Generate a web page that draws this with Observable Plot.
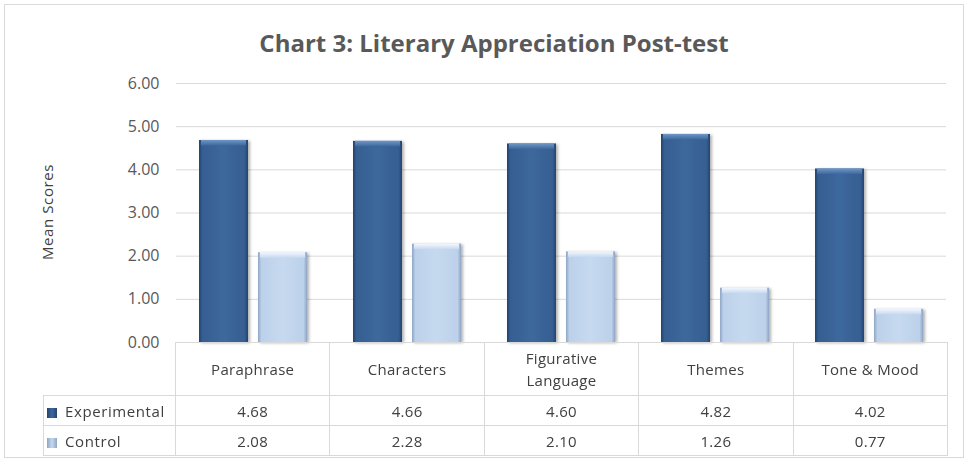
<!DOCTYPE html>
<html>
<head>
<meta charset="utf-8">
<script src="https://cdn.jsdelivr.net/npm/d3@7"></script>
<script src="https://cdn.jsdelivr.net/npm/@observablehq/plot@0.6"></script>
<style>
  html, body { margin: 0; padding: 0; background: #fff; }
  #wrap { position: relative; width: 970px; height: 464px; overflow: hidden; font-family: "Open Sans", sans-serif; }
  #frame { position: absolute; left: 4px; top: 4px; width: 958px; height: 452px; border: 1px solid #d9d9d9; }
  #title { position: absolute; left: 0; width: 988px; top: 26px; text-align: center; font-size: 24px; font-weight: 700; color: #595959; }
  #ylab { position: absolute; left: 47px; top: 212px; transform: translate(-50%, -50%) rotate(-90deg); font-size: 15px; letter-spacing: 0.6px; color: #404040; white-space: nowrap; }
  #plot { position: absolute; left: 0; top: 0; }
  #tbl { position: absolute; left: 43px; top: 342px; border-collapse: collapse; table-layout: fixed; font-size: 15px; color: #404040; }
  #tbl td, #tbl th { border: 1px solid #d9d9d9; text-align: center; font-weight: normal; padding: 0; letter-spacing: 0.3px; }
  #tbl th { height: 52px; }
  #tbl th span { display: inline-block; max-width: 110px; line-height: 22px; }
  #tbl td { height: 29px; }
  #tbl td.blank { border: none; border-right: 1px solid #d9d9d9; border-bottom: 1px solid #d9d9d9; }
  #tbl td.lg { text-align: left; padding-left: 3px; letter-spacing: 0.6px; }
  .key { display: inline-block; width: 10px; height: 10px; margin-right: 8px; vertical-align: -1px; }
</style>
</head>
<body>
<div id="wrap">
  <div id="frame"></div>
  <div id="plot"></div>
  <div id="title">Chart 3: Literary Appreciation Post-test</div>
  <div id="ylab">Mean Scores</div>
  <table id="tbl"></table>
</div>
<script>
const categories = ["Paraphrase", "Characters", "Figurative Language", "Themes", "Tone & Mood"];
const seriesNames = ["Experimental", "Control"];
const experimental = [4.68, 4.66, 4.60, 4.82, 4.02];
const control = [2.08, 2.28, 2.10, 1.26, 0.77];
const yTicks = [0, 1, 2, 3, 4, 5, 6];
const tableValues = [["4.68", "4.66", "4.60", "4.82", "4.02"], ["2.08", "2.28", "2.10", "1.26", "0.77"]];

const expData = categories.map((c, i) => ({category: c, series: seriesNames[0], value: experimental[i]}));
const ctlData = categories.map((c, i) => ({category: c, series: seriesNames[1], value: control[i]}));

const plot = Plot.plot({
  width: 970,
  height: 346,
  marginTop: 83,
  marginBottom: 4,
  marginLeft: 175,
  marginRight: 23,
  style: {color: "#595959", fontFamily: "'Open Sans', sans-serif", fontSize: "16px", background: "transparent", overflow: "visible"},
  fx: {domain: categories, padding: 0, axis: null, label: null},
  x: {domain: seriesNames, paddingInner: 0.17, paddingOuter: 0.39, axis: null, label: null},
  y: {domain: [0, 6], ticks: yTicks, tickFormat: d => d.toFixed(2), label: null, tickSize: 0, tickPadding: 17},
  marks: [
    Plot.ruleY(yTicks, {stroke: "#d9d9d9", strokeWidth: 1}),
    Plot.barY(expData, {fx: "category", x: "series", y: "value", fill: "url(#gExp)"}),
    Plot.barY(ctlData, {fx: "category", x: "series", y: "value", fill: "url(#gCtl)"}),
    Plot.barY(expData, {fx: "category", x: "series", y1: "value", y2: d => d.value - 0.13, fill: "url(#gExpTop)", insetLeft: 2, insetRight: 2}),
    Plot.barY(ctlData, {fx: "category", x: "series", y1: "value", y2: d => d.value - 0.13, fill: "url(#gCtlTop)", insetLeft: 2, insetRight: 2})
  ]
});

const svg = d3.select(plot);
const defs = svg.insert("defs", ":first-child");
function hgrad(id, stops) {
  const g = defs.append("linearGradient").attr("id", id).attr("x1", 0).attr("x2", 1).attr("y1", 0).attr("y2", 0);
  stops.forEach(([o, c]) => g.append("stop").attr("offset", o).attr("stop-color", c));
}
function vgrad(id, stops) {
  const g = defs.append("linearGradient").attr("id", id).attr("x1", 0).attr("x2", 0).attr("y1", 0).attr("y2", 1);
  stops.forEach(([o, c]) => g.append("stop").attr("offset", o).attr("stop-color", c));
}
hgrad("gExp", [[0, "#24446d"], [0.07, "#365f92"], [0.5, "#3d689d"], [0.93, "#365f92"], [1, "#24446d"]]);
hgrad("gCtl", [[0, "#8ea6c4"], [0.07, "#bcd1ea"], [0.5, "#c6d9ef"], [0.93, "#bcd1ea"], [1, "#8ea6c4"]]);
vgrad("gExpTop", [[0, "#6f96c6"], [1, "#3d689d"]]);
vgrad("gCtlTop", [[0, "#f4f8fd"], [1, "#c6d9ef"]]);
const f = defs.append("filter").attr("id", "sh").attr("x", "-20%").attr("y", "-5%").attr("width", "140%").attr("height", "115%");
f.append("feDropShadow").attr("dx", 2).attr("dy", 1).attr("stdDeviation", 1.5).attr("flood-color", "#000").attr("flood-opacity", 0.3);
svg.selectAll("g[aria-label='bar']").each(function(_, i) {
  if (i < 2) d3.select(this).attr("filter", "url(#sh)");
});
document.getElementById("plot").appendChild(plot);

// data table
const tbl = d3.select("#tbl");
const colW = (947 - 175) / categories.length;
const cg = tbl.append("colgroup");
cg.append("col").style("width", "132px");
categories.forEach(() => cg.append("col").style("width", colW + "px"));
const hr = tbl.append("tr");
hr.append("td").attr("class", "blank");
categories.forEach(c => hr.append("th").append("span").text(c));
const keyFill = ["linear-gradient(90deg,#24446d,#3d689d,#24446d)", "linear-gradient(90deg,#8ea6c4,#c6d9ef,#8ea6c4)"];
seriesNames.forEach((s, si) => {
  const r = tbl.append("tr");
  const lg = r.append("td").attr("class", "lg");
  lg.append("span").attr("class", "key").style("background", keyFill[si]);
  lg.append("span").text(s);
  tableValues[si].forEach(v => r.append("td").text(v));
});
</script>
</body>
</html>
